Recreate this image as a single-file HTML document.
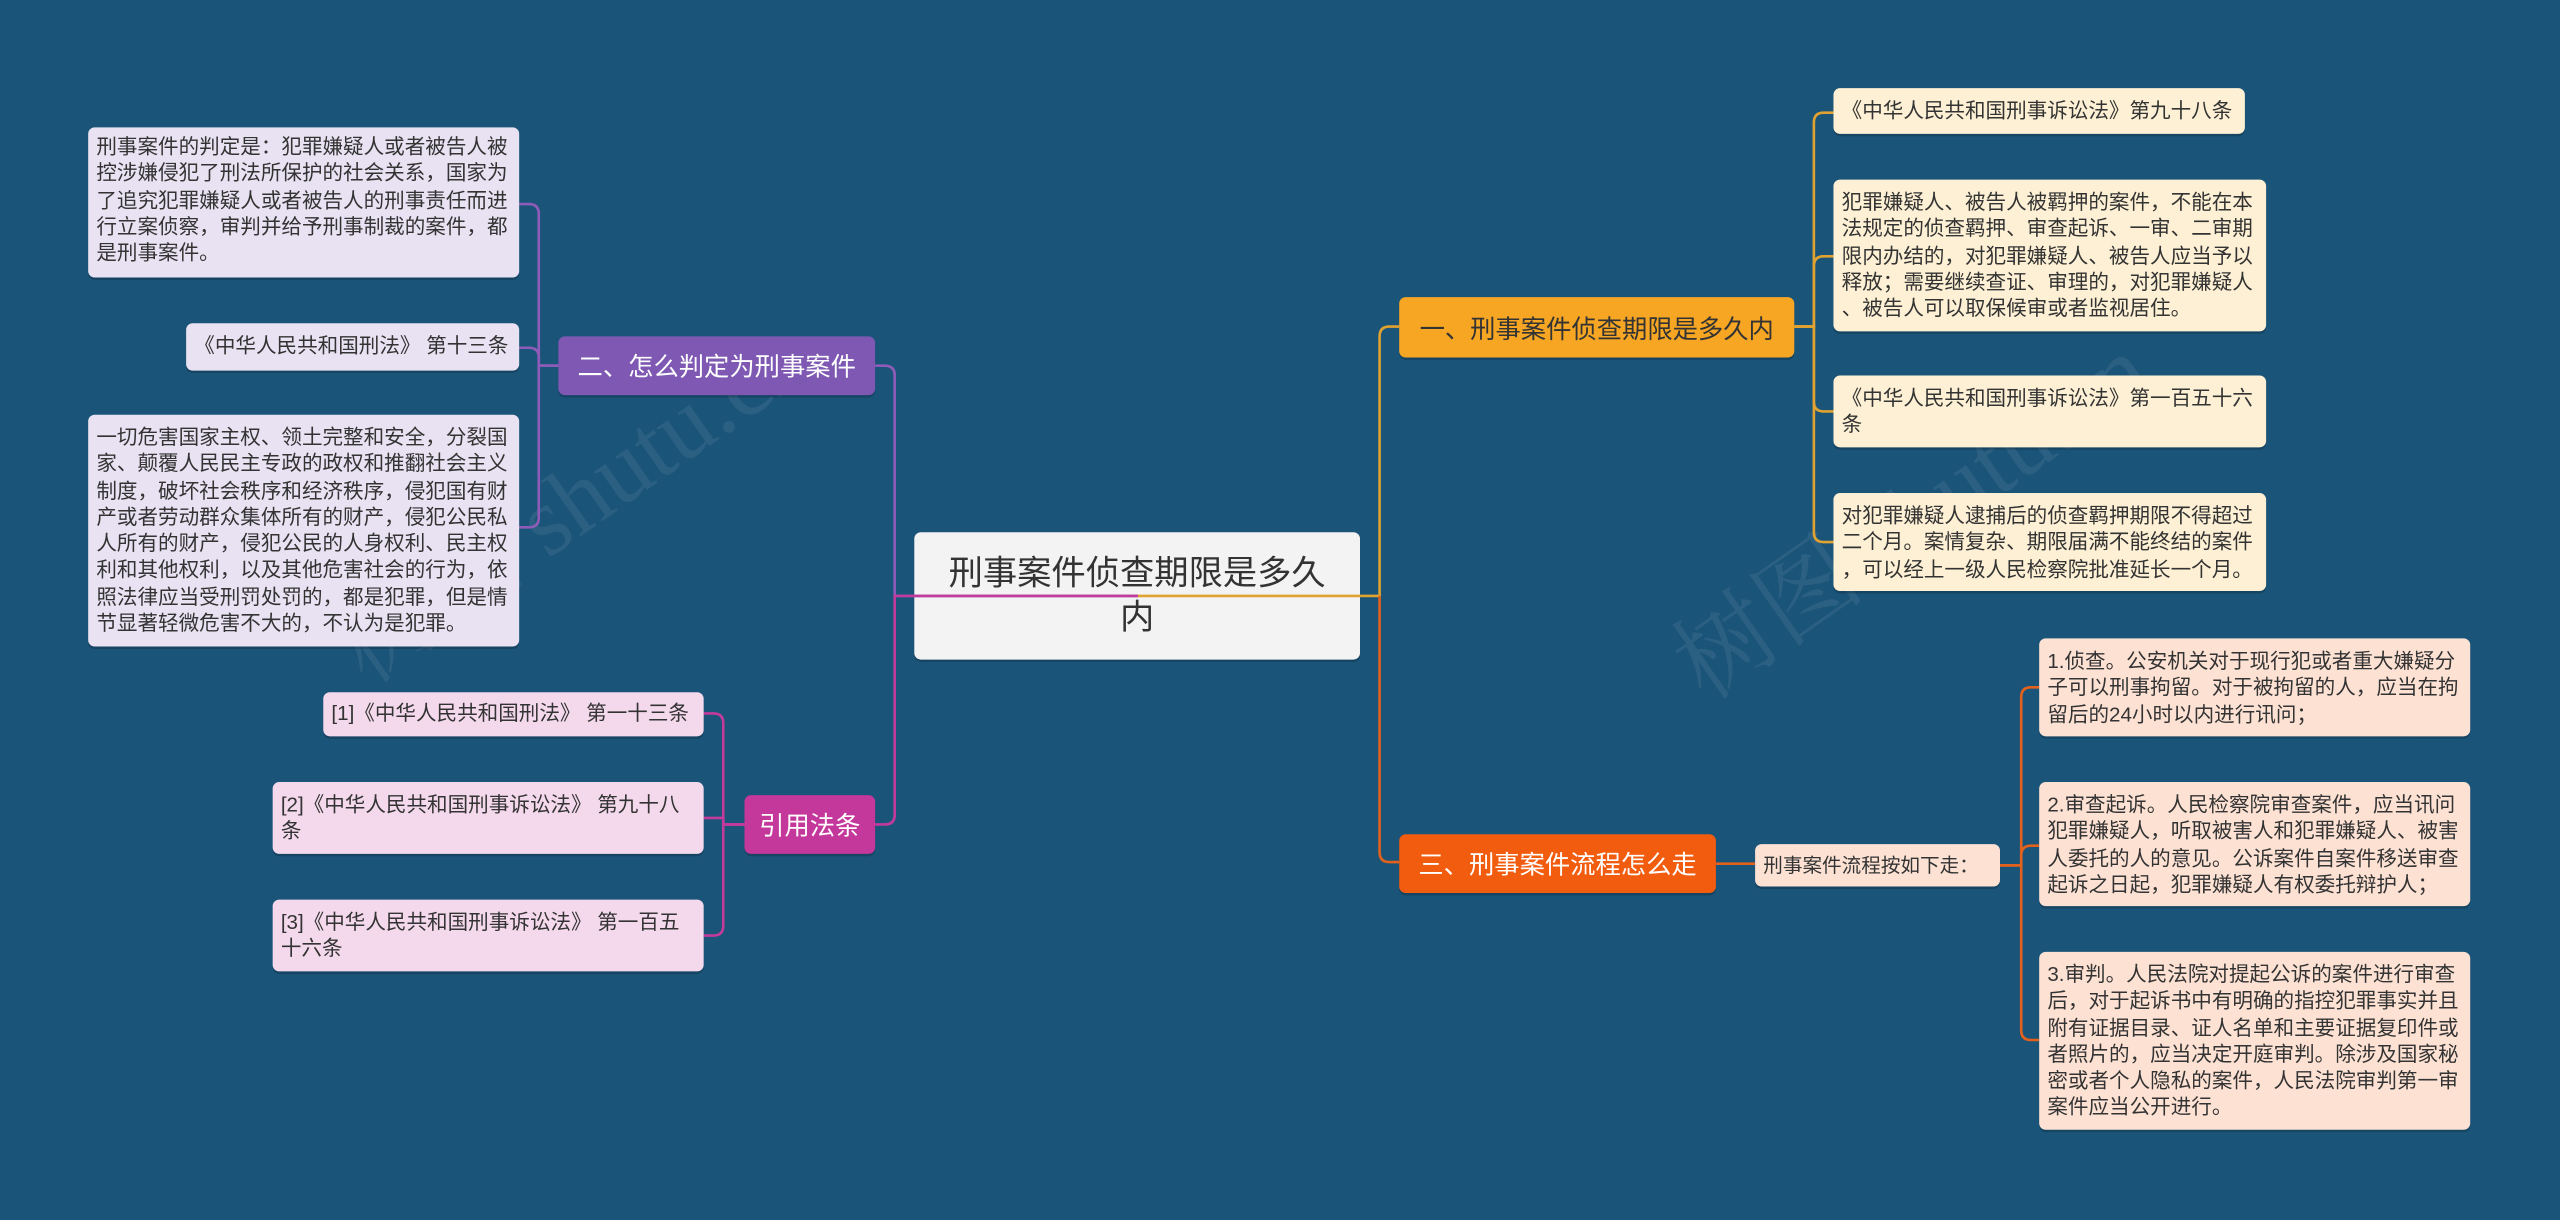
<!DOCTYPE html>
<html><head><meta charset="utf-8"><style>
html,body{margin:0;padding:0;width:2560px;height:1220px;overflow:hidden;background:#1b5479;}
#w{position:absolute;left:0;top:0;width:1568px;height:747px;transform:scale(1.63265);transform-origin:0 0;font-family:"Liberation Sans","Noto Sans CJK SC",sans-serif;}
.b{position:absolute;box-sizing:border-box;border-radius:4px;font-size:12.6px;line-height:16.3px;color:#333;padding:4px 5px;box-shadow:0 1.5px 0 rgba(0,0,0,.18);}
.lv{background:#e8e2f2}.pk{background:#f4d9ec}.cr{background:#fdf0d4}.pe{background:#fde2d4}
.any{line-break:anywhere;word-break:break-all;}
.m{position:absolute;box-sizing:border-box;border-radius:4px;font-size:15.5px;display:flex;align-items:center;justify-content:center;box-shadow:0 1.5px 0 rgba(0,0,0,.18);}
svg{position:absolute;left:0;top:0}
.wm{position:absolute;font-size:60px;color:rgba(255,255,255,.07);transform:rotate(-35deg);white-space:nowrap;font-family:"Liberation Serif","Noto Serif CJK SC",serif;}
</style></head><body><div id="w">
<div class="wm" style="left:180px;top:260px">树图 shutu.cn</div>
<div class="wm" style="left:1000px;top:270px">树图 shutu.cn</div>
<div class="m" style="left:560px;top:326px;width:273px;height:78px;background:#f3f3f3;color:#333;font-size:21px;line-height:27px;text-align:center;padding:0 16px;">刑事案件侦查期限是多久内</div>
<svg width="1568" height="747" fill="none" stroke-width="1.6">
<g stroke="#8e5cb8">
<path d="M342,224 H330 V131 Q330,125 324,125 H318"/>
<path d="M342,224 H330 V219 Q330,213 324,213 H318"/>
<path d="M342,224 H330 V317 Q330,323 324,323 H318"/>
<path d="M697,365 H548 V230 Q548,224 542,224 H536"/>
</g>
<g stroke="#c23b9c">
<path d="M456,505 H443 V443 Q443,437 437,437 H431"/>
<path d="M456,505 H443 V501 H431"/>
<path d="M456,505 H443 V567 Q443,573 437,573 H431"/>
<path d="M697,365 H548 V499 Q548,505 542,505 H536"/>
</g>
<g stroke="#e0a230">
<path d="M697,365 H845 V206 Q845,200 851,200 H857"/>
<path d="M1099,200 H1111 V75 Q1111,69 1117,69 H1123"/>
<path d="M1099,200 H1111 V163 Q1111,157 1117,157 H1123"/>
<path d="M1099,200 H1111 V246 Q1111,252 1117,252 H1123"/>
<path d="M1099,200 H1111 V326 Q1111,332 1117,332 H1123"/>
</g>
<g stroke="#e2611c">
<path d="M845,365 V522 Q845,528 851,528 H857"/>
<path d="M1051,529 H1075"/>
<path d="M1225,530 H1238 V427 Q1238,421 1244,421 H1249"/>
<path d="M1225,530 H1238 V524 Q1238,518 1244,518 H1249"/>
<path d="M1225,530 H1238 V631 Q1238,637 1244,637 H1249"/>
</g>
</svg>
<div class="m" style="left:342px;top:206px;width:194px;height:36px;background:#7e58b2;color:#fff;">二、怎么判定为刑事案件</div>
<div class="m" style="left:456px;top:487px;width:80px;height:36px;background:#c4379b;color:#fff;">引用法条</div>
<div class="m" style="left:857px;top:182px;width:242px;height:37px;background:#f6a623;color:#333;">一、刑事案件侦查期限是多久内</div>
<div class="m" style="left:857px;top:511px;width:194px;height:36px;background:#f25c0e;color:#fff;">三、刑事案件流程怎么走</div>

<div class="b lv" style="left:54px;top:78px;width:264px;height:92px;">刑事案件的判定是：犯罪嫌疑人或者被告人被控涉嫌侵犯了刑法所保护的社会关系，国家为了追究犯罪嫌疑人或者被告人的刑事责任而进行立案侦察，审判并给予刑事制裁的案件，都是刑事案件。</div>
<div class="b lv" style="left:114px;top:198px;width:204px;height:29px;padding-top:6px;">《中华人民共和国刑法》 第十三条</div>
<div class="b lv" style="left:54px;top:254px;width:264px;height:142px;padding-top:6px;">一切危害国家主权、领土完整和安全，分裂国家、颠覆人民民主专政的政权和推翻社会主义制度，破坏社会秩序和经济秩序，侵犯国有财产或者劳动群众集体所有的财产，侵犯公民私人所有的财产，侵犯公民的人身权利、民主权利和其他权利，以及其他危害社会的行为，依照法律应当受刑罚处罚的，都是犯罪，但是情节显著轻微危害不大的，不认为是犯罪。</div>

<div class="b pk" style="left:198px;top:424px;width:233px;height:27px;padding-top:5px;">[1]《中华人民共和国刑法》 第一十三条</div>
<div class="b pk" style="left:167px;top:479px;width:264px;height:44px;padding-top:6px;">[2]《中华人民共和国刑事诉讼法》 第九十八条</div>
<div class="b pk" style="left:167px;top:551px;width:264px;height:44px;padding-top:6px;">[3]《中华人民共和国刑事诉讼法》 第一百五十六条</div>

<div class="b cr" style="left:1123px;top:54px;width:252px;height:28px;padding-top:6px;">《中华人民共和国刑事诉讼法》第九十八条</div>
<div class="b cr any" style="left:1123px;top:110px;width:265px;height:93px;padding-top:6px;">犯罪嫌疑人、被告人被羁押的案件，不能在本法规定的侦查羁押、审查起诉、一审、二审期限内办结的，对犯罪嫌疑人、被告人应当予以释放；需要继续查证、审理的，对犯罪嫌疑人、被告人可以取保候审或者监视居住。</div>
<div class="b cr" style="left:1123px;top:230px;width:265px;height:44px;padding-top:6px;">《中华人民共和国刑事诉讼法》第一百五十六条</div>
<div class="b cr any" style="left:1123px;top:302px;width:265px;height:60px;padding-top:6px;">对犯罪嫌疑人逮捕后的侦查羁押期限不得超过二个月。案情复杂、期限届满不能终结的案件，可以经上一级人民检察院批准延长一个月。</div>

<div class="b pe" style="left:1075px;top:517px;width:150px;height:26px;padding-top:5px;font-size:12px;">刑事案件流程按如下走：</div>
<div class="b pe" style="left:1249px;top:391px;width:264px;height:60px;padding-top:6px;">1.侦查。公安机关对于现行犯或者重大嫌疑分子可以刑事拘留。对于被拘留的人，应当在拘留后的24小时以内进行讯问；</div>
<div class="b pe" style="left:1249px;top:479px;width:264px;height:76px;padding-top:6px;">2.审查起诉。人民检察院审查案件，应当讯问犯罪嫌疑人，听取被害人和犯罪嫌疑人、被害人委托的人的意见。公诉案件自案件移送审查起诉之日起，犯罪嫌疑人有权委托辩护人；</div>
<div class="b pe" style="left:1249px;top:583px;width:264px;height:109px;padding-top:6px;">3.审判。人民法院对提起公诉的案件进行审查后，对于起诉书中有明确的指控犯罪事实并且附有证据目录、证人名单和主要证据复印件或者照片的，应当决定开庭审判。除涉及国家秘密或者个人隐私的案件，人民法院审判第一审案件应当公开进行。</div>
</div></body></html>
